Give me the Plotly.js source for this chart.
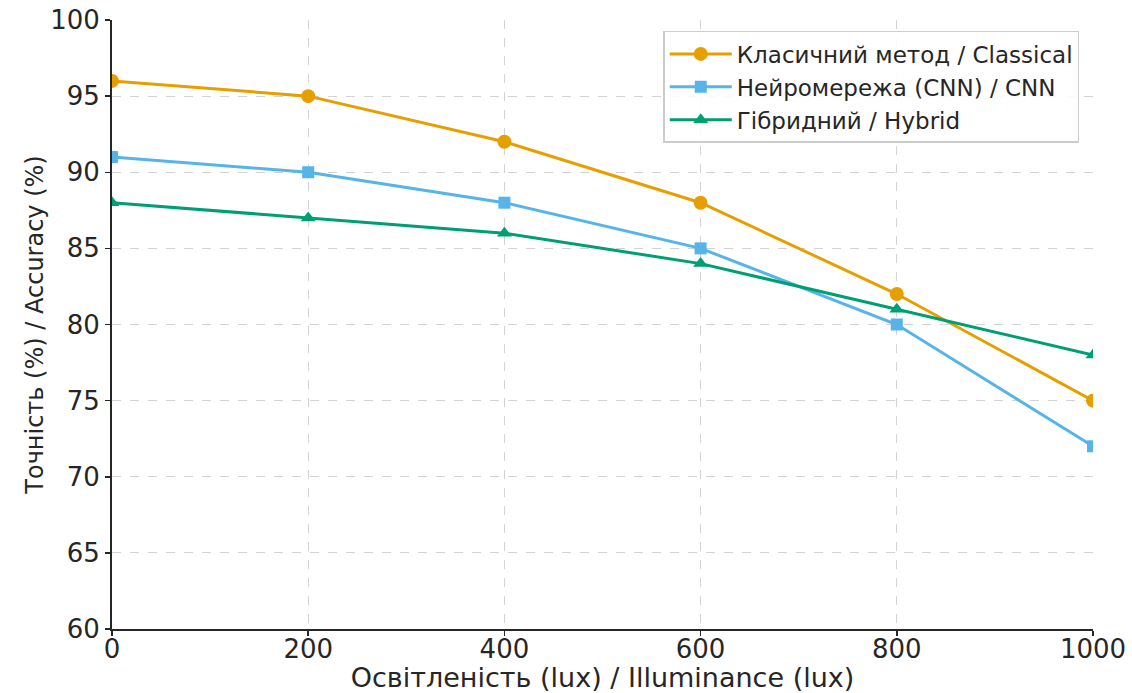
<!DOCTYPE html>
<html><head><meta charset="utf-8">
<script src="https://cdn.plot.ly/plotly-3.0.1.min.js"></script>
<style>html,body{margin:0;padding:0;background:#fff}#chart{width:1132px;height:693px}</style>
</head><body><div id="chart"></div>
<script>
const illuminance = [0, 200, 400, 600, 800, 1000];
const classical = [96, 95, 92, 88, 82, 75];
const cnn = [91, 90, 88, 85, 80, 72];
const hybrid = [88, 87, 86, 84, 81, 78];
const seriesNames = ["Класичний метод / Classical", "Нейромережа (CNN) / CNN", "Гібридний / Hybrid"];
const xTicks = [0, 200, 400, 600, 800, 1000];
const yTicks = [60, 65, 70, 75, 80, 85, 90, 95, 100];

const font = "DejaVu Sans, sans-serif";
function tr(y, name, color, symbol, size) {
  return {x: illuminance, y: y, name: name, type: 'scatter', mode: 'lines+markers',
    line: {color: color, width: 3}, marker: {color: color, size: size, symbol: symbol}, cliponaxis: true};
}
const data = [
  tr(classical, seriesNames[0], '#E69F00', 'circle', 14),
  tr(cnn, seriesNames[1], '#56B4E9', 'square', 12),
  tr(hybrid, seriesNames[2], '#009E73', 'triangle-up', 13)
];
const layout = {
  width: 1132, height: 693,
  margin: {l: 112, r: 39, t: 20, b: 64},
  paper_bgcolor: '#fff', plot_bgcolor: '#fff',
  font: {family: font, color: '#262626', size: 26},
  xaxis: {range: [0, 1000], tickvals: xTicks, ticks: 'outside', ticklen: 5, tickwidth: 1.5, tickcolor: '#262626',
    ticklabelstandoff: -9,
    showline: true, linecolor: '#262626', linewidth: 2, mirror: false,
    showgrid: true, gridcolor: '#d3d3d3', griddash: 'dash', gridwidth: 1, zeroline: false,
    tickfont: {size: 26}, title: {text: 'Освітленість (lux) / Illuminance (lux)', font: {size: 27}, standoff: 5}},
  yaxis: {range: [60, 100], tickvals: yTicks, ticks: 'outside', ticklen: 5, tickwidth: 1.5, tickcolor: '#262626',
    showline: true, linecolor: '#262626', linewidth: 2, mirror: false,
    showgrid: true, gridcolor: '#d3d3d3', griddash: 'dash', gridwidth: 1, zeroline: false,
    tickfont: {size: 26}, title: {text: 'Точність (%) / Accuracy (%)', font: {size: 24}, standoff: 0}},
  legend: {x: 0.986, y: 0.982, xanchor: 'right', yanchor: 'top', bgcolor: 'rgba(255,255,255,0.85)',
    bordercolor: '#cccccc', borderwidth: 1.5, font: {size: 23}, tracegroupgap: 0, itemwidth: 62},
  showlegend: true
};
Plotly.newPlot('chart', data, layout, {displayModeBar: false, staticPlot: true});
</script></body></html>
